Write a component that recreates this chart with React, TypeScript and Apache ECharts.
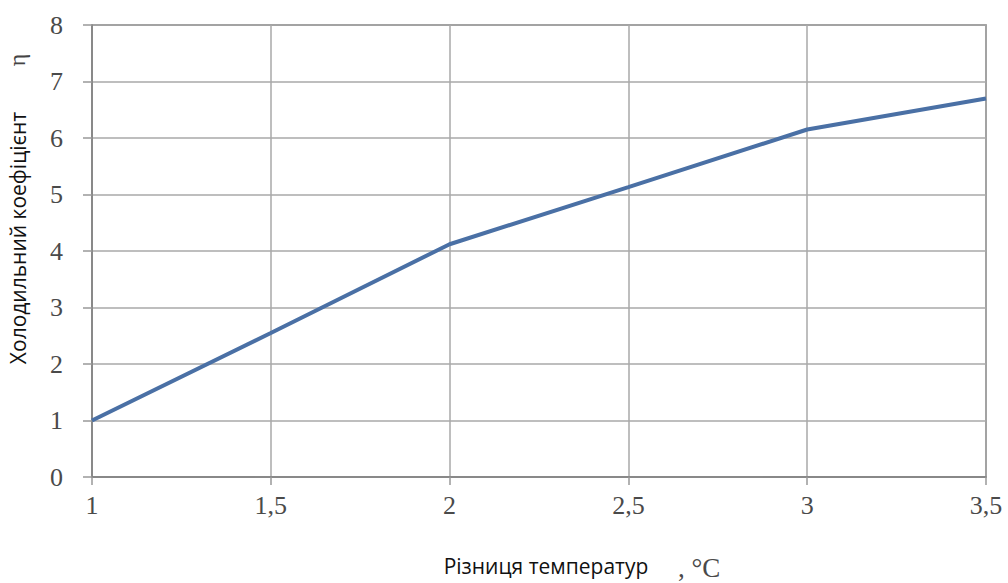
import React, { useEffect, useRef } from "react";
import * as echarts from "echarts";

const xValues = [1, 1.5, 2, 2.5, 3, 3.5];
const etaValues = [1.0, 2.55, 4.12, 5.13, 6.15, 6.7];
const xTickLabels: Record<string, string> = { "1": "1", "1.5": "1,5", "2": "2", "2.5": "2,5", "3": "3", "3.5": "3,5" };
const yTitle = "Холодильний коефіцієнт";
const yTitleSymbol = "η";
const xTitle = "Різниця температур";
const xTitleUnit = ", °C";

export default function App() {
  const ref = useRef<HTMLDivElement>(null);
  useEffect(() => {
    if (!ref.current) return;
    const chart = echarts.init(ref.current, null, { renderer: "svg" });
    const serif = "'Liberation Serif', 'Times New Roman', serif";
    const sans = "'Open Sans', 'Noto Sans', sans-serif";
    chart.setOption({
      animation: false,
      backgroundColor: "#ffffff",
      grid: { left: 92, right: 22, top: 25, bottom: 106, show: true, borderColor: "#707070", borderWidth: 1.5 },
      xAxis: {
        type: "value",
        min: 1,
        max: 3.5,
        interval: 0.5,
        axisLine: { show: true, lineStyle: { color: "#808080", width: 1.5 } },
        axisTick: { show: true, length: 8, lineStyle: { color: "#999", width: 1.5 } },
        splitLine: { show: true, lineStyle: { color: "#a8a8a8", width: 1.5 } },
        axisLabel: {
          margin: 15,
          fontFamily: serif,
          fontSize: 26,
          color: "#4a4a4a",
          formatter: (v: number) => xTickLabels[String(v)] ?? String(v),
        },
      },
      yAxis: {
        type: "value",
        min: 0,
        max: 8,
        interval: 1,
        axisLine: { show: true, lineStyle: { color: "#808080", width: 1.5 } },
        axisTick: { show: true, length: 9, lineStyle: { color: "#999", width: 1.5 } },
        splitLine: { show: true, lineStyle: { color: "#a8a8a8", width: 1.5 } },
        axisLabel: { margin: 29, fontFamily: serif, fontSize: 26, color: "#4a4a4a" },
      },
      series: [
        {
          type: "line",
          data: xValues.map((x, i) => [x, etaValues[i]]),
          showSymbol: false,
          lineStyle: { color: "#4a70a5", width: 4 },
        },
      ],
      graphic: [
        {
          type: "text",
          x: 18,
          y: 238,
          rotation: Math.PI / 2,
          style: { text: yTitle, fontFamily: sans, fontSize: 21, fill: "#111", align: "center", verticalAlign: "middle" },
        },
        {
          type: "text",
          x: 17,
          y: 60,
          rotation: Math.PI / 2,
          style: { text: yTitleSymbol, fontFamily: serif, fontSize: 24, fill: "#444", align: "center", verticalAlign: "middle" },
        },
        {
          type: "text",
          x: 546,
          y: 566,
          style: { text: xTitle, fontFamily: sans, fontSize: 21, fill: "#111", align: "center", verticalAlign: "middle" },
        },
        {
          type: "text",
          x: 678,
          y: 568,
          style: { text: xTitleUnit, fontFamily: serif, fontSize: 27, fill: "#4a4a4a", align: "left", verticalAlign: "middle" },
        },
      ],
    });
    return () => chart.dispose();
  }, []);
  return <div ref={ref} style={{ position: "fixed", left: 0, top: 0, width: 1008, height: 583 }} />;
}
